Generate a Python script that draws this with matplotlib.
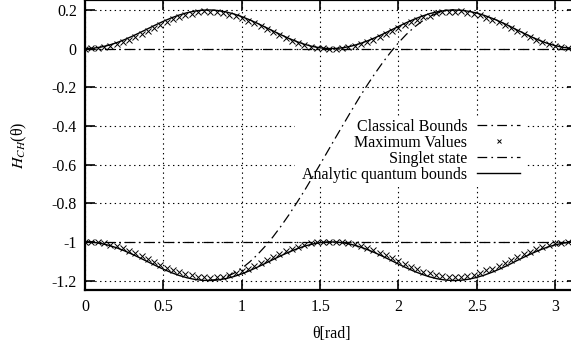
import matplotlib
matplotlib.use("Agg")
import matplotlib.pyplot as plt
from matplotlib.lines import Line2D
from matplotlib.patches import Rectangle

plt.rcParams['font.family'] = ['Liberation Serif', 'DejaVu Serif']
plt.rcParams['mathtext.fontset'] = 'stix'
plt.rcParams['axes.unicode_minus'] = False
plt.rcParams['lines.scale_dashes'] = False

# ---------------- data ----------------
theta_curve = [0.00, 0.05, 0.10, 0.15, 0.20, 0.25, 0.30, 0.35, 0.40, 0.45, 0.50, 0.55, 0.60, 0.65,
               0.70, 0.75, 0.80, 0.85, 0.90, 0.95, 1.00, 1.05, 1.10, 1.15, 1.20, 1.25, 1.30, 1.35,
               1.40, 1.45, 1.50, 1.55, 1.60, 1.65, 1.70, 1.75, 1.80, 1.85, 1.90, 1.95, 2.00, 2.05,
               2.10, 2.15, 2.20, 2.25, 2.30, 2.35, 2.40, 2.45, 2.50, 2.55, 2.60, 2.65, 2.70, 2.75,
               2.80, 2.85, 2.90, 2.95, 3.00, 3.05, 3.10, 3.15]
analytic_upper = [0.0000, 0.0020, 0.0079, 0.0175, 0.0303, 0.0460, 0.0638, 0.0830, 0.1029, 0.1227,
                  0.1416, 0.1589, 0.1737, 0.1857, 0.1942, 0.1990, 0.1998, 0.1967, 0.1897, 0.1791,
                  0.1654, 0.1490, 0.1307, 0.1112, 0.0913, 0.0716, 0.0531, 0.0365, 0.0224, 0.0114,
                  0.0040, 0.0003, 0.0007, 0.0049, 0.0131, 0.0246, 0.0392, 0.0561, 0.0747, 0.0946,
                  0.1146, 0.1340, 0.1519, 0.1676, 0.1811, 0.1911, 0.1975, 0.2000, 0.1985, 0.1930,
                  0.1839, 0.1715, 0.1564, 0.1392, 0.1206, 0.0996, 0.0798, 0.0606, 0.0429, 0.0275,
                  0.0156, 0.0068, 0.0015, 0.0000]
analytic_lower = [-1.0000, -1.0020, -1.0079, -1.0175, -1.0303, -1.0460, -1.0638, -1.0830, -1.1029, -1.1227,
                  -1.1416, -1.1589, -1.1737, -1.1857, -1.1942, -1.1990, -1.1998, -1.1967, -1.1897, -1.1791,
                  -1.1654, -1.1490, -1.1307, -1.1112, -1.0913, -1.0716, -1.0531, -1.0365, -1.0224, -1.0114,
                  -1.0040, -1.0003, -1.0007, -1.0049, -1.0131, -1.0246, -1.0392, -1.0561, -1.0747, -1.0946,
                  -1.1146, -1.1340, -1.1519, -1.1676, -1.1811, -1.1911, -1.1975, -1.2000, -1.1985, -1.1930,
                  -1.1839, -1.1715, -1.1564, -1.1392, -1.1206, -1.0996, -1.0798, -1.0606, -1.0429, -1.0275,
                  -1.0156, -1.0068, -1.0015, -1.0000]

theta_max = [0.00, 0.04, 0.08, 0.12, 0.16, 0.20, 0.24, 0.28, 0.32, 0.36, 0.40, 0.44, 0.48, 0.52,
             0.56, 0.60, 0.64, 0.68, 0.72, 0.76, 0.80, 0.84, 0.88, 0.92, 0.96, 1.00, 1.04, 1.08,
             1.12, 1.16, 1.20, 1.24, 1.28, 1.32, 1.36, 1.40, 1.44, 1.48, 1.52, 1.56, 1.60, 1.64,
             1.68, 1.72, 1.76, 1.80, 1.84, 1.88, 1.92, 1.96, 2.00, 2.04, 2.08, 2.12, 2.16, 2.20,
             2.24, 2.28, 2.32, 2.36, 2.40, 2.44, 2.48, 2.52, 2.56, 2.60, 2.64, 2.68, 2.72, 2.76,
             2.80, 2.84, 2.88, 2.92, 2.96, 3.00, 3.04, 3.08, 3.12]
max_upper = [0.000, 0.001, 0.003, 0.007, 0.013, 0.022, 0.033, 0.046, 0.060, 0.077, 0.093, 0.109,
             0.124, 0.140, 0.151, 0.165, 0.176, 0.180, 0.188, 0.193, 0.191, 0.190, 0.186, 0.174,
             0.168, 0.157, 0.145, 0.130, 0.115, 0.100, 0.084, 0.069, 0.054, 0.041, 0.028, 0.019,
             0.010, 0.004, 0.001, 0.000, 0.000, 0.002, 0.007, 0.014, 0.023, 0.034, 0.047, 0.061,
             0.075, 0.091, 0.107, 0.122, 0.137, 0.150, 0.163, 0.170, 0.184, 0.187, 0.192, 0.190,
             0.193, 0.186, 0.181, 0.173, 0.160, 0.150, 0.136, 0.121, 0.106, 0.090, 0.074, 0.060,
             0.046, 0.034, 0.023, 0.013, 0.006, 0.002, 0.000]
max_lower = [-1.000, -0.999, -1.002, -1.008, -1.014, -1.022, -1.033, -1.045, -1.058, -1.072, -1.088, -1.104,
             -1.118, -1.133, -1.145, -1.158, -1.165, -1.172, -1.182, -1.184, -1.188, -1.182, -1.180, -1.170,
             -1.163, -1.150, -1.141, -1.125, -1.110, -1.094, -1.079, -1.064, -1.049, -1.036, -1.024, -1.015,
             -1.007, -1.002, -1.000, -0.999, -1.000, -1.002, -1.006, -1.013, -1.021, -1.030, -1.042, -1.055,
             -1.068, -1.084, -1.098, -1.115, -1.128, -1.142, -1.155, -1.160, -1.173, -1.176, -1.184, -1.182,
             -1.180, -1.175, -1.170, -1.160, -1.145, -1.140, -1.124, -1.110, -1.093, -1.080, -1.063, -1.050,
             -1.038, -1.025, -1.015, -1.008, -1.004, -1.001, -1.000]

theta_singlet = [0.785, 0.85, 0.90, 0.95, 1.00, 1.05, 1.10, 1.15, 1.20, 1.25, 1.30, 1.35, 1.40, 1.45,
                 1.50, 1.55, 1.60, 1.65, 1.70, 1.75, 1.80, 1.85, 1.90, 1.95, 2.00, 2.05, 2.10, 2.15,
                 2.20, 2.25, 2.30, 2.356]
singlet = [-1.200, -1.194, -1.182, -1.162, -1.137, -1.104, -1.066, -1.022, -0.973, -0.919, -0.861, -0.799,
           -0.735, -0.667, -0.599, -0.529, -0.459, -0.390, -0.321, -0.254, -0.190, -0.129, -0.072, -0.019,
           0.030, 0.073, 0.110, 0.141, 0.166, 0.184, 0.196, 0.200]

classical_x = [0.0, 3.2]
classical_upper = [0.0, 0.0]
classical_lower = [-1.0, -1.0]

xticks = [0, 0.5, 1, 1.5, 2, 2.5, 3]
xticklabels = ['0', '0.5', '1', '1.5', '2', '2.5', '3']
yticks = [0.2, 0, -0.2, -0.4, -0.6, -0.8, -1, -1.2]
yticklabels = ['0.2', '0', '-0.2', '-0.4', '-0.6', '-0.8', '-1', '-1.2']

labels = ['Classical Bounds', 'Maximum Values', 'Singlet state', 'Analytic quantum bounds']

# ---------------- figure ----------------
W, H = 571, 345
fig = plt.figure(figsize=(W / 100, H / 100), dpi=100)
ax = fig.add_axes([85.2 / W, (H - 290.2) / H, 491.97 / W, 289.9 / H])
ax.set_xlim(0, 3.14159)
ax.set_ylim(-1.25, 0.25)

dashdot = (0, (7.0, 3.0, 1.2, 3.0))
lw = 0.9
msize = 4.0

ax.set_axisbelow(True)
ax.grid(True, color='black', linestyle=(0, (1, 2.5)), linewidth=0.8)

# opaque key area (hides grid, not curves)
ax.add_patch(Rectangle((1.34, -0.70), 1.48, 0.34, facecolor='white', edgecolor='none',
                       zorder=1.0))

ax.plot(classical_x, classical_upper, color='black', lw=lw, linestyle=dashdot, zorder=2)
ax.plot(classical_x, classical_lower, color='black', lw=lw, linestyle=dashdot, zorder=2)
ax.plot(theta_max, max_upper, linestyle='none', marker='x', color='black', markersize=msize,
        markeredgewidth=0.7, zorder=3)
ax.plot(theta_max, max_lower, linestyle='none', marker='x', color='black', markersize=msize,
        markeredgewidth=0.7, zorder=3)
ax.plot(theta_singlet, singlet, color='black', lw=lw, linestyle=dashdot, zorder=2)
ax.plot(theta_curve, analytic_upper, color='black', lw=1.0, zorder=2)
ax.plot(theta_curve, analytic_lower, color='black', lw=1.0, zorder=2)

handles = [
    Line2D([], [], color='black', lw=lw, linestyle=dashdot),
    Line2D([], [], color='black', linestyle='none', marker='x', markersize=3.2, markeredgewidth=0.7),
    Line2D([], [], color='black', lw=lw, linestyle=dashdot),
    Line2D([], [], color='black', lw=1.0),
]
leg = ax.legend(handles, labels, loc='upper right', bbox_to_anchor=(0.884, 0.591),
                frameon=False, markerfirst=False, fontsize=11.5, handlelength=2.7,
                handletextpad=0.6, labelspacing=0.0, borderpad=0.0, borderaxespad=0.0)
leg.set_zorder(5)

ax.set_xticks(xticks)
ax.set_xticklabels(xticklabels)
ax.set_yticks(yticks)
ax.set_yticklabels(yticklabels)
ax.tick_params(direction='in', length=7.5, width=1.2, top=True, right=True,
               labelsize=11.5, pad=6, colors='black')
for s in ax.spines.values():
    s.set_linewidth(1.6)

ax.set_xlabel('θ[rad]', fontsize=11.5, labelpad=8)
ax.set_ylabel(r'$H_{CH}$(θ)', fontsize=11.5, labelpad=16)

fig.savefig('out.png', dpi=100)
